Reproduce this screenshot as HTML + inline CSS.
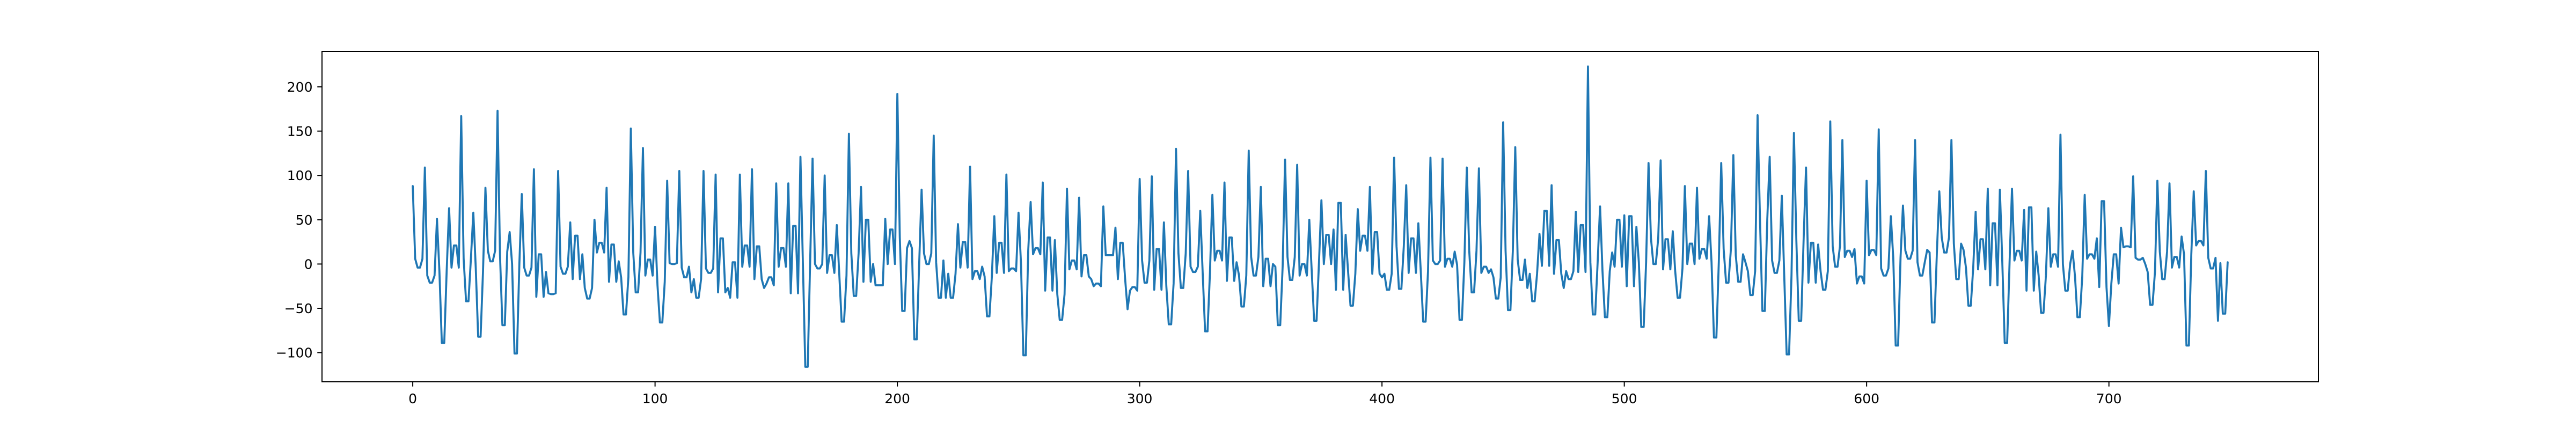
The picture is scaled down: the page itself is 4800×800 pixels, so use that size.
<!DOCTYPE html>
<html><head><meta charset="utf-8"><style>
html,body{margin:0;padding:0;background:#fff;}
svg{display:block;}
text{font-family:"DejaVu Sans","Liberation Sans",sans-serif;font-size:25px;fill:#000;}
</style></head><body>
<svg id="chart" width="4800" height="800" viewBox="0 0 4800 800">
<rect x="0" y="0" width="4800" height="800" fill="#fff"/>
<g id="plot"></g>
</svg>
<script>
const values = [
88,6,-4,-4,6,109,-13,-21,-21,-13, 51,-8,-89,-89,-8,63,-4,21,21,-4,
167,6,-42,-42,6,58,-4,-82,-82,-8, 86,15,3,3,15,173,11,-69,-69,14,
36,0,-101,-101,0,79,-4,-13,-13,-4, 107,-37,11,11,-37,-9,-33,-34,-34,-33,
105,-3,-11,-11,-3,47,-17,32,32,-17, 11,-27,-39,-39,-27,50,13,24,24,13,
86,-20,22,22,-20,3,-15,-57,-57,-15, 153,13,-32,-32,13,131,-13,5,5,-13,
42,-24,-66,-66,-20,94,1,0,0,1, 105,-4,-15,-15,-3,-32,-17,-38,-38,-17,
105,-5,-10,-10,-5,101,-32,29,29,-32, -27,-38,2,2,-38,101,-3,21,21,-3,
107,-17,20,20,-17,-27,-22,-15,-15,-24, 91,-3,18,18,-3,91,-33,43,43,-33,
121,2,-116,-116,2,119,0,-5,-5,0, 100,-10,10,10,-10,44,-10,-65,-65,-13,
147,12,-36,-36,12,87,-20,50,50,-20, 0,-24,-24,-24,-24,51,0,39,39,0,
192,30,-53,-53,18,26,18,-85,-85,0, 84,12,0,0,12,145,2,-38,-38,4,
-38,-11,-38,-38,-11,45,-4,25,25,-4, 110,-17,-8,-8,-17,-3,-14,-59,-59,-14,
54,-10,24,24,-10,101,-8,-5,-5,-8, 58,2,-103,-103,15,70,11,18,18,11,
92,-30,30,30,-30,27,-34,-63,-63,-34, 85,-6,4,4,-6,75,-14,10,10,-14,
-17,-25,-22,-22,-25,65,10,10,10,10, 41,-17,24,24,-17,-51,-30,-26,-26,-30,
96,4,-21,-21,4,99,-29,17,17,-29, 47,-25,-68,-68,-22,130,12,-27,-27,12,
105,-3,-9,-9,-3,60,-10,-76,-76,-10, 78,4,15,15,4,92,-19,30,30,-19,
2,-13,-48,-48,-13,128,8,-13,-13,8, 87,-25,6,6,-25,0,-3,-69,-69,-3,
118,8,-18,-18,8,112,-13,0,0,-13, 50,-8,-64,-64,2,72,0,33,33,0,
39,-29,69,69,-29,33,-8,-47,-47,-11, 62,15,32,32,15,87,-11,36,36,-11,
-15,-11,-29,-29,-11,120,20,-28,-28,20, 89,-10,29,29,-10,46,-8,-65,-65,-8,
120,4,0,0,4,119,-3,6,6,-3, 14,-1,-63,-63,2,109,15,-32,-32,15,
108,-10,-3,-3,-10,-6,-15,-39,-39,-15, 160,15,-52,-52,15,132,5,-18,-18,5,
-27,-11,-42,-42,-11,34,-2,60,60,-2, 89,-11,27,27,-11,-27,-8,-17,-17,-8,
59,-9,44,44,-9,223,2,-57,-57,2, 65,-8,-60,-60,-8,13,-3,50,50,-3,
55,-25,54,54,-25,42,2,-71,-71,2, 114,29,0,0,29,117,-6,28,28,-6,
37,-8,-38,-38,-5,88,0,23,23,0, 86,6,17,17,6,54,2,-83,-83,2,
114,17,-21,-21,17,123,10,-20,-20,11, 2,-8,-35,-35,-8,168,50,-53,-53,50,
121,4,-10,-10,4,77,-13,-102,-102,-13, 148,27,-64,-64,27,109,-21,24,24,-21,
22,-8,-29,-29,-8,161,20,-3,-3,20, 140,8,15,15,8,17,-22,-14,-14,-22,
94,10,16,16,10,152,-5,-13,-13,-5, 54,7,-92,-92,7,66,15,6,6,15,
140,2,-13,-13,2,16,13,-66,-66,13, 82,30,13,13,30,140,23,-17,-17,23,
16,-4,-47,-47,-4,59,-6,28,28,-6, 85,-24,46,46,-24,84,2,-89,-89,2,
85,4,15,15,4,61,-30,64,64,-30, 14,-13,-55,-55,-13,63,-3,11,11,-3,
146,0,-30,-30,0,15,-14,-60,-60,-14, 78,6,11,11,6,29,-26,71,71,-26,
-70,-22,11,11,-22,41,19,20,20,19, 99,7,5,5,7,0,-9,-46,-46,-9,
94,14,-17,-17,14,91,-4,8,8,-4, 31,11,-92,-92,11,82,21,26,26,21,
105,7,-5,-5,7,-64,1,-56,-56,2
];
const xTicks = [0,100,200,300,400,500,600,700];
const yTicks = [-100,-50,0,50,100,150,200];

const NS = "http://www.w3.org/2000/svg";
const plot = document.getElementById('plot');
const L = 600, R = 4320, T = 96, B = 712;
const n = values.length;
const xmin = -0.05*(n-1), xmax = (n-1)*1.05;
const dmin = Math.min(...values), dmax = Math.max(...values);
const ymin = dmin - 0.05*(dmax-dmin), ymax = dmax + 0.05*(dmax-dmin);
function sx(v){ return L + (v - xmin)/(xmax - xmin)*(R - L); }
function sy(v){ return T + (ymax - v)/(ymax - ymin)*(B - T); }
function mk(tag, attrs){ const e = document.createElementNS(NS, tag); for (const k in attrs) e.setAttribute(k, attrs[k]); return e; }

const line = mk('polyline', {points: values.map((v,i)=>sx(i).toFixed(2)+','+sy(v).toFixed(2)).join(' '), fill:'none', stroke:'#1f77b4', 'stroke-width':'3.75', 'stroke-linejoin':'round', 'stroke-linecap':'round'});


plot.appendChild(line);

const frame = mk('rect', {x:L, y:T, width:R-L, height:B-T, fill:'none', stroke:'#000', 'stroke-width':'2'});


plot.appendChild(frame);

xTicks.forEach(t => {
  const x = sx(t);
  const tk = mk('line', {x1:x, y1:B, x2:x, y2:B+8.75, stroke:'#000', 'stroke-width':'2'});
  
  
  plot.appendChild(tk);
  const lb = mk('text', {x:x, y:752, 'text-anchor':'middle'});
  lb.textContent = String(t);
  
  
  plot.appendChild(lb);
});
yTicks.forEach(t => {
  const y = sy(t);
  const tk = mk('line', {x1:L-8.75, y1:y, x2:L, y2:y, stroke:'#000', 'stroke-width':'2'});
  
  
  plot.appendChild(tk);
  const lb = mk('text', {x:L-17.5, y:y+9, 'text-anchor':'end'});
  lb.textContent = t < 0 ? '\u2212' + Math.abs(t) : String(t);
  
  
  plot.appendChild(lb);
});
</script>
</body></html>
